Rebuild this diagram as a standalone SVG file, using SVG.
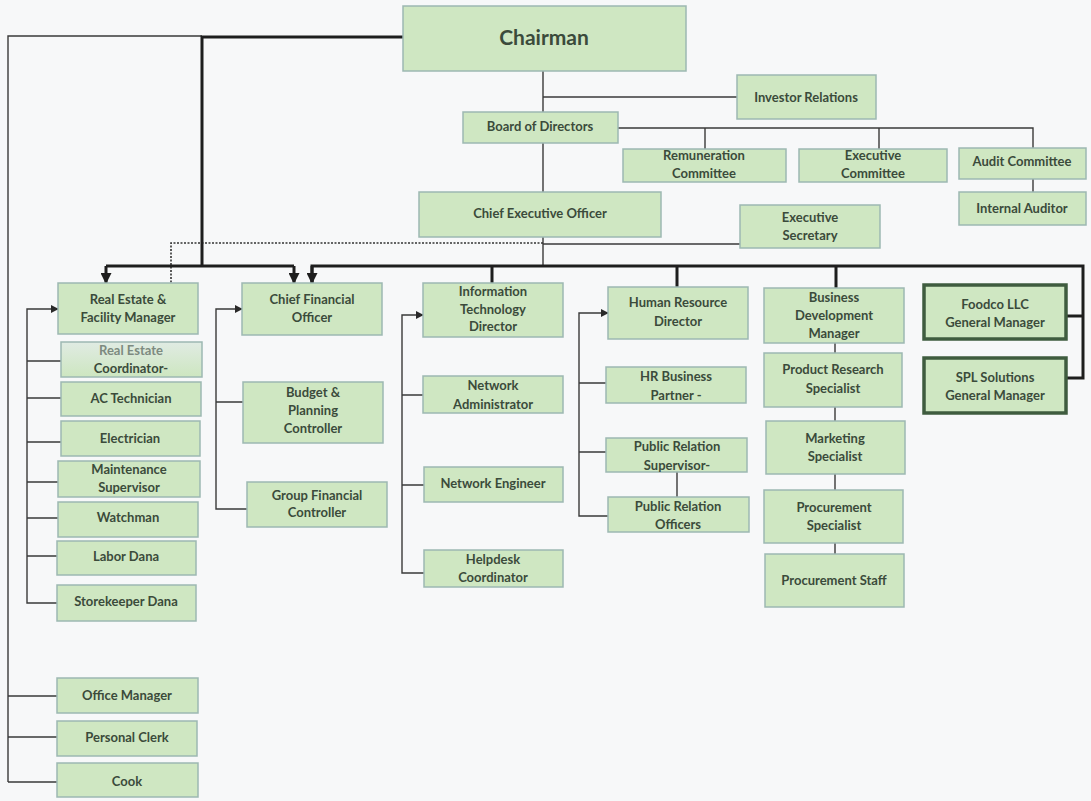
<svg xmlns="http://www.w3.org/2000/svg" width="1091" height="801" viewBox="0 0 1091 801">
<defs>
<style>
.n rect{fill:#cfe7c2;stroke:#9db8b2;stroke-width:1.5}
.n.g rect{fill:url(#gr)}
.n.k rect{stroke:#3f5c3f;stroke-width:3.5}
text{font-family:Lato,"Liberation Sans",sans-serif;font-weight:700;font-size:13px;fill:#3b4b3b;text-anchor:middle}
.big{font-size:21px}
.c{fill:none;stroke:#3a3a3a;stroke-width:1.4}
.t{fill:none;stroke:#1e1e1e;stroke-width:3}
.d{fill:none;stroke:#333;stroke-width:1.6;stroke-dasharray:2 1.5}
</style>
<linearGradient id="gr" x1="0" y1="0" x2="0" y2="1"><stop offset="0" stop-color="#e0ebe3"/><stop offset="1" stop-color="#cde6c0"/></linearGradient>
<marker id="a" viewBox="0 0 10 10" refX="9" refY="5" markerWidth="8" markerHeight="8" markerUnits="userSpaceOnUse" orient="auto"><path d="M0 0L10 5L0 10z" fill="#2a2a2a"/></marker>
<marker id="b" viewBox="0 0 10 10" refX="9" refY="5" markerWidth="11" markerHeight="11" markerUnits="userSpaceOnUse" orient="auto"><path d="M0 0L10 5L0 10z" fill="#1e1e1e"/></marker>
</defs>
<rect x="0" y="0" width="1091" height="801" fill="#f7f8f9"/>
<g id="connectors">
<path class="c" d="M202 36H8V782"/>
<path class="c" d="M8 696H57M8 737H57M8 782H57"/>
<path class="c" d="M543 71V266"/>
<path class="c" d="M543 97H737"/>
<path class="c" d="M618 128H1033V148M705 128V149M879 128V149"/>
<path class="c" d="M1033 179V192"/>
<path class="c" d="M543 244H740"/>
<path class="d" d="M543 243H171V283"/>
<path class="t" d="M403 37H202V266"/>
<path class="t" d="M106 266H294"/>
<path class="t" d="M106 266V283" marker-end="url(#b)"/>
<path class="t" d="M294 266V283" marker-end="url(#b)"/>
<path class="t" d="M312 283V266H1083V378H1066"/>
<path class="t" d="M312 266V283" marker-end="url(#b)"/>
<path class="t" d="M1083 316H1066M492 266V283M677 266V287M836 266V288"/>
<path class="c" d="M58 309H27V603H57M27 361H61M27 398H61M27 442H61M27 482H58M27 518H58M27 556H57"/>
<path class="c" d="M57 309H58" marker-end="url(#a)"/>
<path class="c" d="M242 309H216V509H247M216 402H243"/>
<path class="c" d="M241 309H242" marker-end="url(#a)"/>
<path class="c" d="M423 315H402V573H424M402 395H423M402 485H424"/>
<path class="c" d="M422 315H423" marker-end="url(#a)"/>
<path class="c" d="M608 313H579V516H608M579 383H606M579 452H606"/>
<path class="c" d="M607 313H608" marker-end="url(#a)"/>
<path class="c" d="M677 472V497"/>
<path class="c" d="M835 343V353M835 407V421M835 474V490M835 543V554"/>
</g>
<g id="chairman" class="n"><rect x="403" y="6" width="283" height="65"/><text class="big" x="544" y="45">Chairman</text></g>
<g id="investor-relations" class="n"><rect x="737" y="75" width="139" height="44"/><text x="806" y="102">Investor Relations</text></g>
<g id="board" class="n"><rect x="463" y="112" width="155" height="31"/><text x="540" y="131">Board of Directors</text></g>
<g id="remuneration" class="n"><rect x="623" y="149" width="163" height="33"/><text x="704" y="160">Remuneration</text><text x="704" y="178">Committee</text></g>
<g id="executive-committee" class="n"><rect x="799" y="149" width="148" height="33"/><text x="873" y="160">Executive</text><text x="873" y="178">Committee</text></g>
<g id="audit" class="n"><rect x="959" y="148" width="127" height="31"/><text x="1022" y="166">Audit Committee</text></g>
<g id="internal-auditor" class="n"><rect x="959" y="192" width="127" height="33"/><text x="1022" y="213">Internal Auditor</text></g>
<g id="ceo" class="n"><rect x="419" y="192" width="242" height="45"/><text x="540" y="218">Chief Executive  Officer</text></g>
<g id="exec-secretary" class="n"><rect x="740" y="205" width="140" height="43"/><text x="810" y="222">Executive</text><text x="810" y="240">Secretary</text></g>
<g id="re-manager" class="n"><rect x="58" y="283" width="140" height="51"/><text x="128" y="304">Real Estate &amp;</text><text x="128" y="322">Facility Manager</text></g>
<g id="re-coordinator" class="n g"><rect x="61" y="342" width="141" height="35"/><text x="131" y="355" style="fill:#7d8a80">Real Estate</text><text x="131" y="373">Coordinator-</text></g>
<g id="ac-technician" class="n"><rect x="61" y="382" width="140" height="34"/><text x="131" y="403">AC Technician</text></g>
<g id="electrician" class="n"><rect x="61" y="421" width="139" height="35"/><text x="130" y="443">Electrician</text></g>
<g id="maintenance" class="n"><rect x="58" y="461" width="142" height="36"/><text x="129" y="474">Maintenance</text><text x="129" y="492">Supervisor</text></g>
<g id="watchman" class="n"><rect x="58" y="502" width="140" height="35"/><text x="128" y="522">Watchman</text></g>
<g id="labor" class="n"><rect x="57" y="541" width="139" height="34"/><text x="126" y="561">Labor Dana</text></g>
<g id="storekeeper" class="n"><rect x="57" y="585" width="139" height="36"/><text x="126" y="606">Storekeeper Dana</text></g>
<g id="office-manager" class="n"><rect x="57" y="678" width="141" height="35"/><text x="127" y="700">Office Manager</text></g>
<g id="personal-clerk" class="n"><rect x="57" y="721" width="140" height="35"/><text x="127" y="742">Personal Clerk</text></g>
<g id="cook" class="n"><rect x="57" y="763" width="141" height="34"/><text x="127" y="786">Cook</text></g>
<g id="cfo" class="n"><rect x="242" y="283" width="140" height="52"/><text x="312" y="304">Chief Financial</text><text x="312" y="322">Officer</text></g>
<g id="budget" class="n"><rect x="243" y="382" width="140" height="61"/><text x="313" y="397">Budget &amp;</text><text x="313" y="415">Planning</text><text x="313" y="433">Controller</text></g>
<g id="group-fc" class="n"><rect x="247" y="482" width="140" height="45"/><text x="317" y="500">Group Financial</text><text x="317" y="517">Controller</text></g>
<g id="it-director" class="n"><rect x="423" y="283" width="140" height="54"/><text x="493" y="296">Information</text><text x="493" y="314">Technology</text><text x="493" y="331">Director</text></g>
<g id="net-admin" class="n"><rect x="423" y="376" width="140" height="37"/><text x="493" y="390">Network</text><text x="493" y="409">Administrator</text></g>
<g id="net-engineer" class="n"><rect x="424" y="467" width="139" height="35"/><text x="493" y="488">Network Engineer</text></g>
<g id="helpdesk" class="n"><rect x="424" y="550" width="139" height="37"/><text x="493" y="564">Helpdesk</text><text x="493" y="582">Coordinator</text></g>
<g id="hr-director" class="n"><rect x="608" y="287" width="140" height="52"/><text x="678" y="307">Human Resource</text><text x="678" y="326">Director</text></g>
<g id="hr-bp" class="n"><rect x="606" y="367" width="140" height="36"/><text x="676" y="381">HR Business</text><text x="676" y="400">Partner -</text></g>
<g id="pr-supervisor" class="n"><rect x="606" y="438" width="141" height="34"/><text x="677" y="451">Public Relation</text><text x="677" y="470">Supervisor-</text></g>
<g id="pr-officers" class="n"><rect x="608" y="497" width="141" height="35"/><text x="678" y="511">Public Relation</text><text x="678" y="529">Officers</text></g>
<g id="bd-manager" class="n"><rect x="764" y="288" width="140" height="55"/><text x="834" y="302">Business</text><text x="834" y="320">Development</text><text x="834" y="338">Manager</text></g>
<g id="product-research" class="n"><rect x="764" y="353" width="138" height="54"/><text x="833" y="374">Product Research</text><text x="833" y="393">Specialist</text></g>
<g id="marketing" class="n"><rect x="766" y="421" width="139" height="53"/><text x="835" y="443">Marketing</text><text x="835" y="461">Specialist</text></g>
<g id="procurement-specialist" class="n"><rect x="764" y="490" width="139" height="53"/><text x="834" y="512">Procurement</text><text x="834" y="530">Specialist</text></g>
<g id="procurement-staff" class="n"><rect x="765" y="554" width="139" height="53"/><text x="834" y="585">Procurement  Staff</text></g>
<g id="foodco" class="n k"><rect x="924" y="285" width="142" height="54"/><text x="995" y="309">Foodco LLC</text><text x="995" y="327">General Manager</text></g>
<g id="spl" class="n k"><rect x="924" y="358" width="142" height="55"/><text x="995" y="382">SPL Solutions</text><text x="995" y="400">General Manager</text></g>
</svg>
